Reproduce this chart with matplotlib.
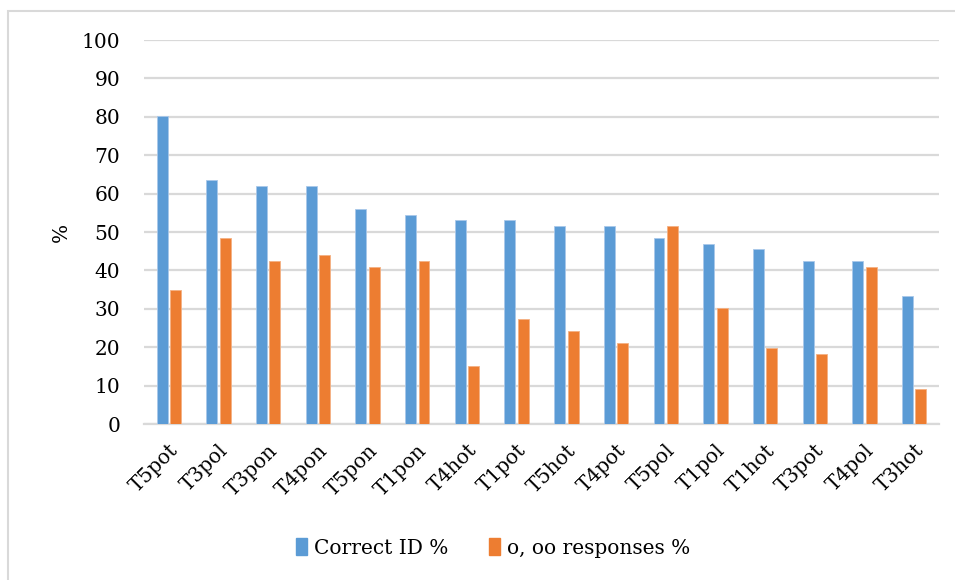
import matplotlib
matplotlib.use("Agg")
import matplotlib.pyplot as plt
from matplotlib.patches import Rectangle, Patch
import numpy as np

categories = ["T5pot", "T3pol", "T3pon", "T4pon", "T5pon", "T1pon", "T4hot", "T1pot",
              "T5hot", "T4pot", "T5pol", "T1pol", "T1hot", "T3pot", "T4pol", "T3hot"]
correct_id = [80.3, 63.6, 62.1, 62.1, 56.1, 54.5, 53.0, 53.0,
              51.5, 51.5, 48.5, 47.0, 45.5, 42.4, 42.4, 33.3]
o_oo_responses = [34.8, 48.5, 42.4, 43.9, 40.9, 42.4, 15.2, 27.3,
                  24.2, 21.2, 51.5, 30.3, 19.7, 18.2, 40.9, 9.1]
y_ticks = list(range(0, 101, 10))

BLUE = "#5B9BD5"
ORANGE = "#ED7D31"
GRID = "#D9D9D9"
FONT = "DejaVu Serif"
FS = 14.5

W, H = 955, 580
fig = plt.figure(figsize=(W / 100, H / 100), dpi=100)
fig.patch.set_facecolor("white")

# chart frame (light grey border)
fig.add_artist(Rectangle((7.5 / W, -0.1), 2, 1 - 10.5 / H + 0.1,
                         transform=fig.transFigure, fill=False,
                         edgecolor=GRID, linewidth=1.5))

ax = fig.add_axes([144 / W, 1 - 424 / H, (939 - 144) / W, (424 - 40) / H])
x = np.arange(len(categories))
width = 0.22
off = 0.135
ax.bar(x - off, correct_id, width, color=BLUE, edgecolor="#A9C8EA", linewidth=0.6, zorder=3)
ax.bar(x + off, o_oo_responses, width, color=ORANGE, edgecolor="#F4B183", linewidth=0.6, zorder=3)

ax.set_xlim(-0.5, len(categories) - 0.5)
ax.set_ylim(0, 100)
ax.set_yticks(y_ticks)
ax.set_yticklabels([str(t) for t in y_ticks], fontsize=FS, family=FONT)
ax.yaxis.grid(True, color=GRID, linewidth=1.6, zorder=0)
ax.set_axisbelow(True)
for s in ["top", "right", "left"]:
    ax.spines[s].set_visible(False)
ax.spines["bottom"].set_color(GRID)
ax.spines["bottom"].set_linewidth(1.6)
ax.tick_params(axis="both", length=0)
ax.tick_params(axis="y", pad=17)
ax.set_xticks(x)
ax.set_xticklabels(categories, rotation=45, ha="right", va="top",
                   rotation_mode="anchor", fontsize=FS, family=FONT)
ax.tick_params(axis="x", pad=12)
ax.set_ylabel("%", fontsize=FS, family=FONT, labelpad=8)

handles = [Patch(color=BLUE, label="Correct ID %"),
           Patch(color=ORANGE, label="o, oo responses %")]
fig.legend(handles=handles, loc="center", bbox_to_anchor=(493 / W, 1 - 548 / H),
           ncol=2, frameon=False, prop={"family": FONT, "size": FS},
           handlelength=0.55, handleheight=0.85, handletextpad=0.35, columnspacing=2.0)

fig.savefig("out.png", dpi=100, facecolor="white")
